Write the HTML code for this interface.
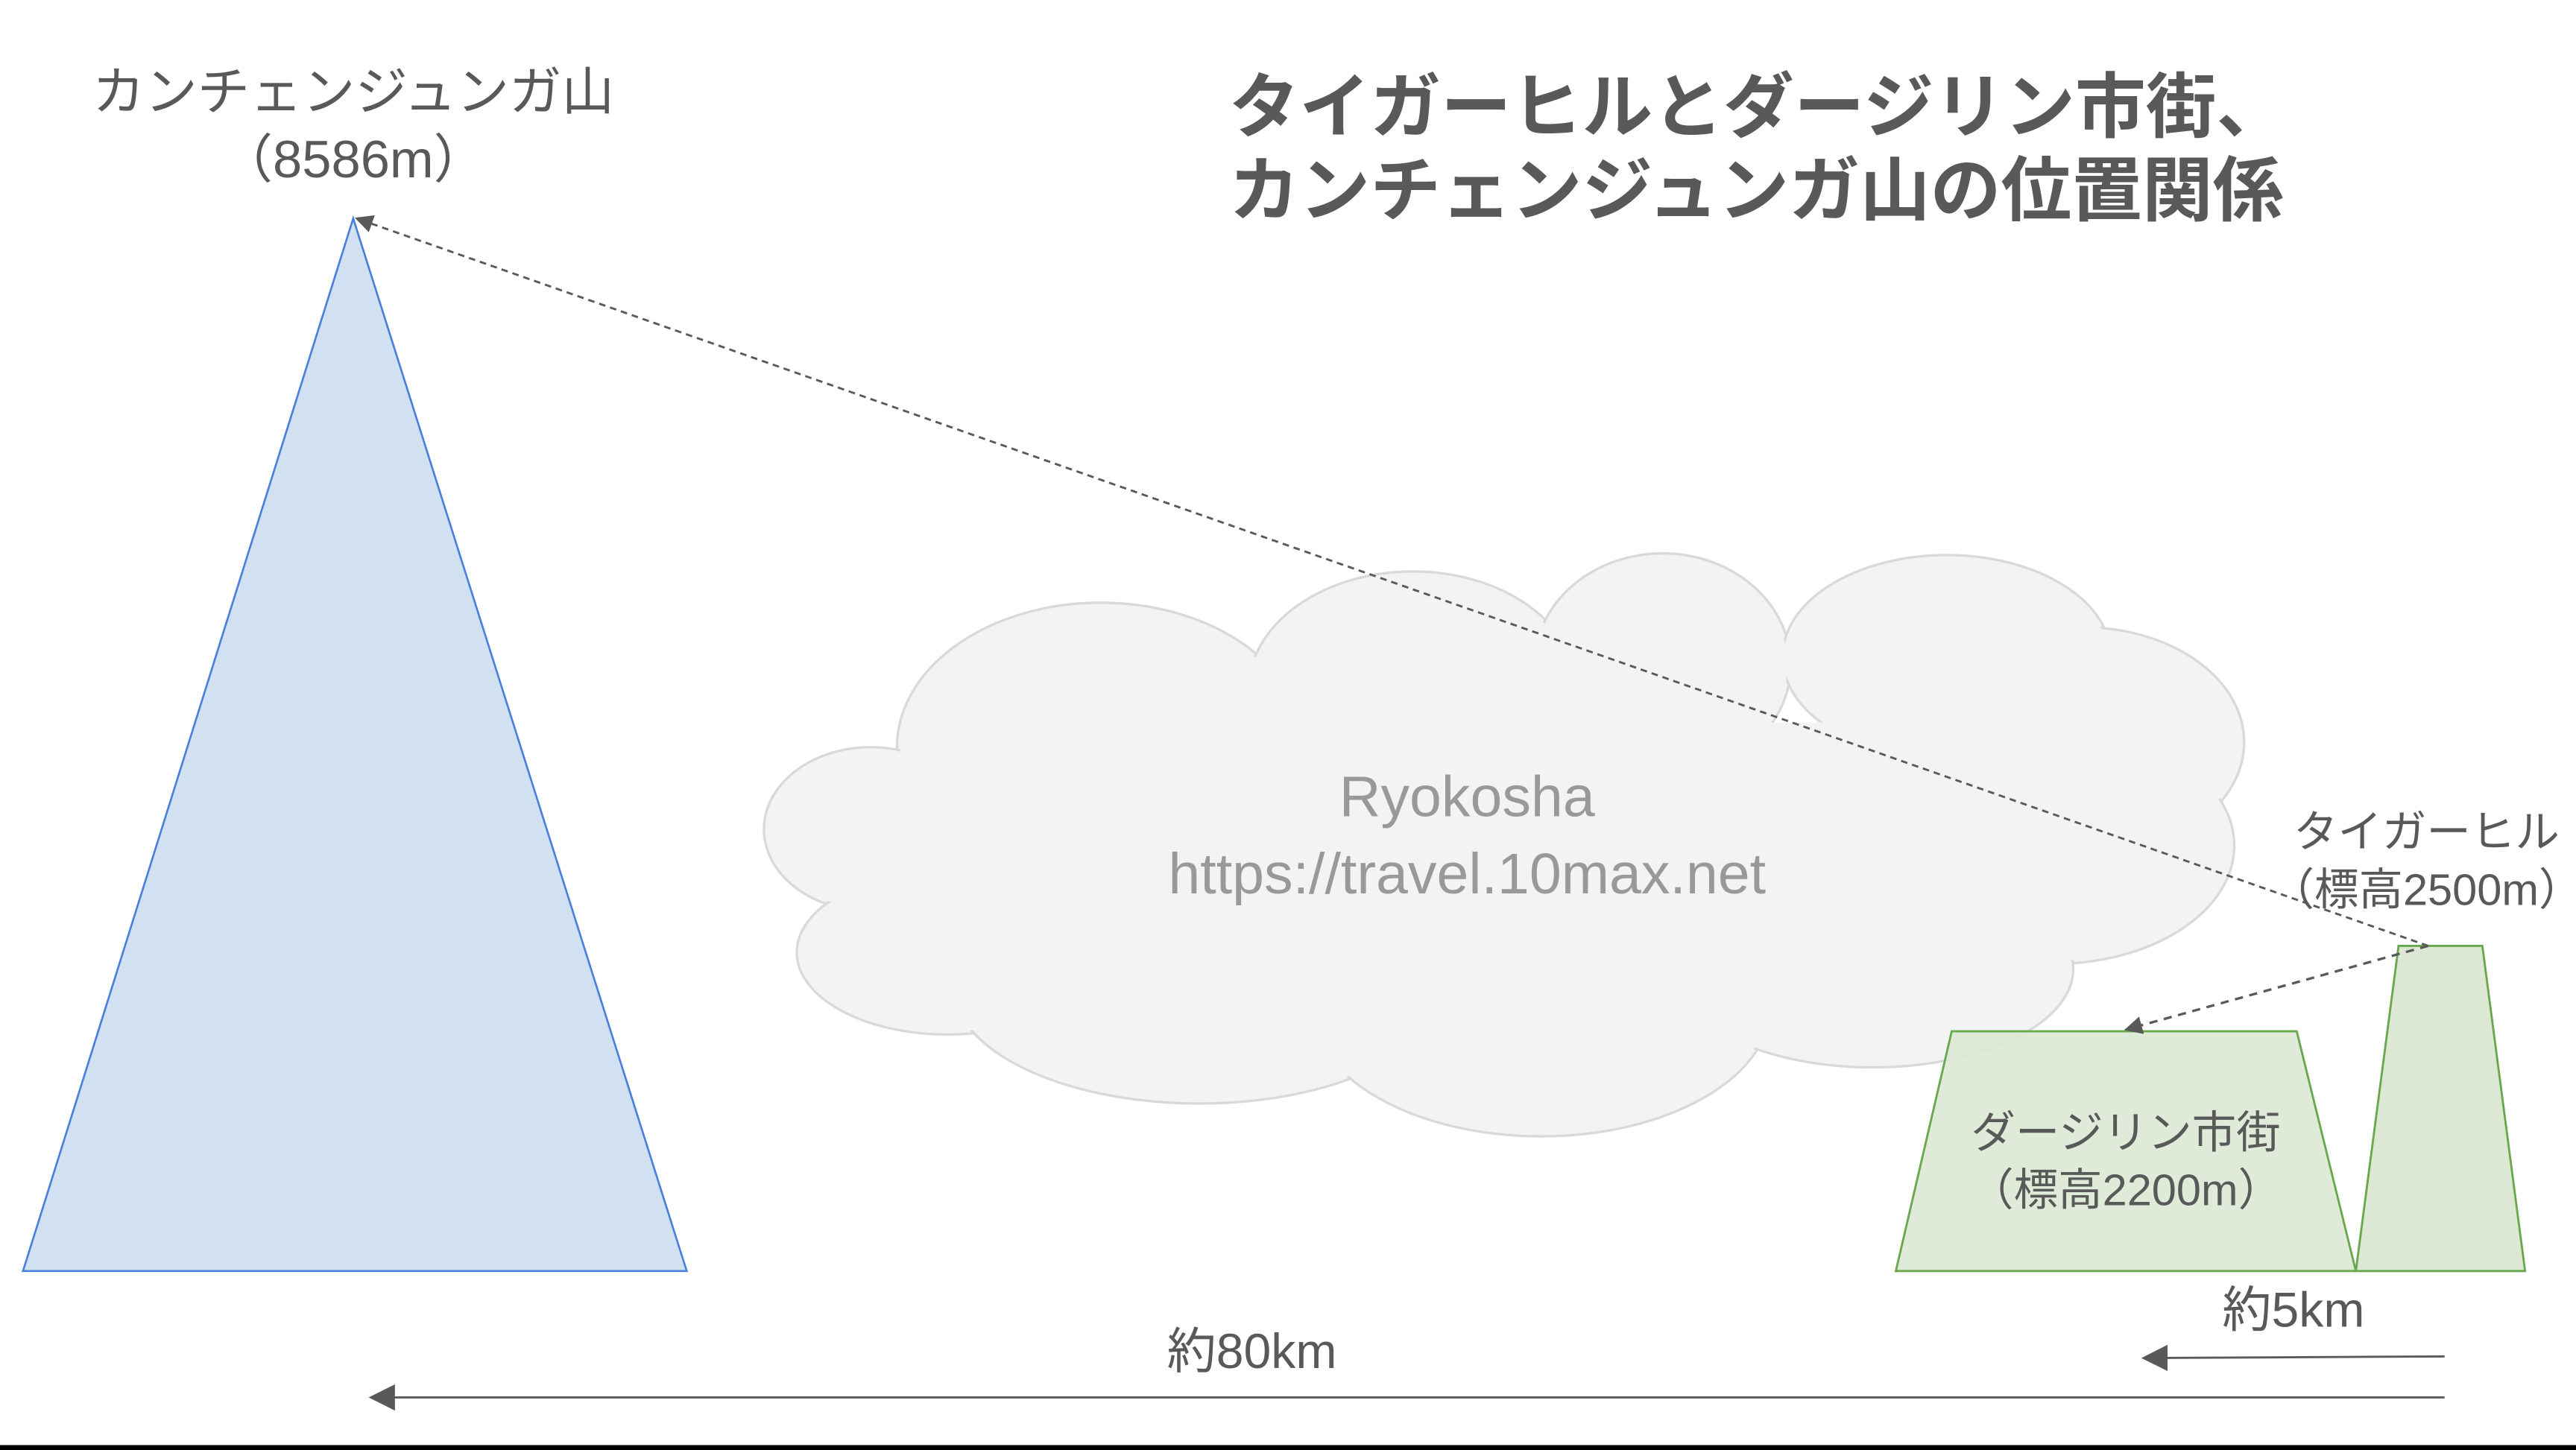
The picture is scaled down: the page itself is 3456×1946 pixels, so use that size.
<!DOCTYPE html>
<html><head><meta charset="utf-8"><style>
html,body{margin:0;padding:0;background:#fff;width:3456px;height:1946px;overflow:hidden}
svg{display:block}
text{font-family:"Liberation Sans","Noto Sans CJK JP",sans-serif;fill:#595959}
</style></head><body>
<svg width="3456" height="1946" viewBox="0 0 1568 883" preserveAspectRatio="none" xmlns="http://www.w3.org/2000/svg">
<defs>
<marker id="ah" viewBox="0 0 10 10" refX="9" refY="5" markerWidth="11" markerHeight="11" markerUnits="userSpaceOnUse" orient="auto"><path d="M0,0 L10,5 L0,10 z" fill="#595959"/></marker>
<marker id="ah2" viewBox="0 0 10 10" refX="9" refY="5" markerWidth="16" markerHeight="16" markerUnits="userSpaceOnUse" orient="auto"><path d="M0,0 L10,5 L0,10 z" fill="#595959"/></marker>
</defs>
<g stroke="#d9d9d9" stroke-width="1.5" fill="#f3f3f3">
<ellipse cx="670" cy="455" rx="124" ry="88"/>
<ellipse cx="860" cy="420" rx="100" ry="72"/>
<ellipse cx="1012" cy="405" rx="78" ry="68"/>
<ellipse cx="1185" cy="400" rx="100" ry="62"/>
<ellipse cx="1268" cy="452" rx="98" ry="70"/>
<ellipse cx="1250" cy="515" rx="110" ry="72"/>
<ellipse cx="530" cy="505" rx="65" ry="50"/>
<ellipse cx="577" cy="580" rx="92" ry="50"/>
<ellipse cx="730" cy="600" rx="150" ry="72"/>
<ellipse cx="938" cy="612" rx="140" ry="80"/>
<ellipse cx="1140" cy="590" rx="122" ry="60"/>
</g>
<g fill="#f3f3f3">
<ellipse cx="670" cy="455" rx="122" ry="86"/>
<ellipse cx="860" cy="420" rx="98" ry="70"/>
<ellipse cx="1012" cy="405" rx="76" ry="66"/>
<ellipse cx="1185" cy="400" rx="98" ry="60"/>
<ellipse cx="1268" cy="452" rx="96" ry="68"/>
<ellipse cx="1250" cy="515" rx="108" ry="70"/>
<ellipse cx="530" cy="505" rx="63" ry="48"/>
<ellipse cx="577" cy="580" rx="90" ry="48"/>
<ellipse cx="730" cy="600" rx="148" ry="70"/>
<ellipse cx="938" cy="612" rx="138" ry="78"/>
<ellipse cx="1140" cy="590" rx="120" ry="58"/>
<rect x="560" y="440" width="680" height="160"/>
</g>
<text x="893" y="497" font-size="35" text-anchor="middle" style="fill:#999">Ryokosha</text>
<text x="893" y="544" font-size="35" text-anchor="middle" style="fill:#999">https://travel.10max.net</text>
<polygon points="215,133 14,774 418,774" fill="#d2e1f1" stroke="#4a7fdc" stroke-width="1.2"/>
<polygon points="1154,774 1188,628 1398,628 1434,774" fill="#dce8d4" fill-opacity="0.9" stroke="#6aa84f" stroke-width="1.3"/>
<polygon points="1434,774 1460,576 1511,576 1537,774" fill="#dce8d4" stroke="#6aa84f" stroke-width="1.3"/>
<line x1="1478" y1="576" x2="217" y2="133" stroke="#595959" stroke-width="1.3" stroke-dasharray="4,3" marker-end="url(#ah)"/>
<line x1="1478" y1="576" x2="1294" y2="627" stroke="#595959" stroke-width="1.5" stroke-dasharray="5,4" marker-end="url(#ah)"/>
<line x1="1488" y1="826" x2="1305" y2="827" stroke="#595959" stroke-width="1.3" marker-end="url(#ah2)"/>
<line x1="1488" y1="851" x2="226" y2="851" stroke="#595959" stroke-width="1.3" marker-end="url(#ah2)"/>
<rect x="0" y="880" width="1568" height="3" fill="#000"/>
<text x="215" y="67" font-size="32" text-anchor="middle">カンチェンジュンガ山</text>
<text x="215" y="108" font-size="32" text-anchor="middle">（8586m）</text>
<text x="748" y="80" font-size="43" font-weight="bold">タイガーヒルとダージリン市街、</text>
<text x="748" y="131" font-size="43" font-weight="bold">カンチェンジュンガ山の位置関係</text>
<text x="1477" y="516" font-size="27" text-anchor="middle">タイガーヒル</text>
<text x="1477" y="551" font-size="27" text-anchor="middle">（標高2500m）</text>
<text x="1294" y="699" font-size="27" text-anchor="middle">ダージリン市街</text>
<text x="1294" y="734" font-size="27" text-anchor="middle">（標高2200m）</text>
<text x="1396" y="808" font-size="30" text-anchor="middle">約5km</text>
<text x="762" y="833" font-size="30" text-anchor="middle">約80km</text>
</svg>
</body></html>
